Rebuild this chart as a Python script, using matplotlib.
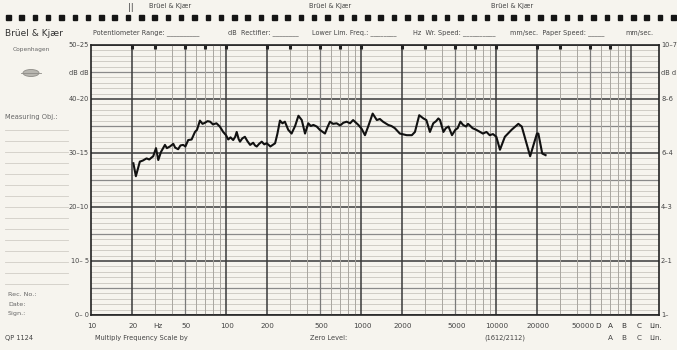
import numpy as np
import matplotlib
matplotlib.use("Agg")
import matplotlib.pyplot as plt
from matplotlib.patches import Ellipse

# ---- data ----
freq_hz = [20.6, 21.5, 23.0, 24.2, 25.8, 27.0, 28.9, 30.3, 31.5, 33.0, 35.3, 36.5,
           38.4, 40.7, 42.0, 44.2, 46.0, 48.2, 50.0, 52.5, 55.6, 58.9, 61.0, 64.1,
           67.0, 69.9, 73.0, 76.3, 80.0, 85.0, 90.0, 95.3, 100.0, 103.9, 108, 113,
           117, 120, 124, 127, 132, 138, 144, 151, 159, 164, 169, 176, 184, 192, 200,
           207, 213, 222, 231, 240, 251, 262, 273, 289, 306, 325, 344, 364, 385,
           407, 425, 444, 470, 495, 541, 565, 589, 620, 660, 700, 740, 783, 830,
           874, 956, 1010, 1070, 1130, 1220, 1310, 1380, 1455, 1590, 1680, 1780,
           1940, 2180, 2380, 2510, 2700, 2900, 3050, 3240, 3430, 3600, 3740, 3850,
           4080, 4250, 4450, 4720, 5000, 5200, 5450, 5700, 6010, 6200, 6400, 6700,
           7140, 7500, 8000, 8500, 8980, 9500, 10060, 10700, 11630, 13050, 14640,
           15520, 17900, 20100, 20600, 22000, 23300]
level_db = [28.1, 25.7, 28.4, 28.6, 29.0, 28.8, 29.4, 30.9, 28.7, 30.2, 31.5, 30.9,
            31.2, 31.7, 31.0, 30.7, 31.4, 31.5, 31.2, 32.4, 32.5, 33.9, 34.3, 36.0,
            35.4, 35.6, 35.9, 35.8, 35.3, 35.5, 34.9, 33.9, 33.3, 32.5, 32.9, 32.4,
            33.0, 33.9, 32.6, 32.1, 32.7, 33.0, 32.2, 31.5, 31.9, 31.4, 31.2, 31.7,
            32.1, 31.6, 31.8, 31.5, 31.2, 31.5, 31.8, 33.5, 36.0, 35.5, 35.8, 34.3,
            33.6, 35.0, 36.9, 36.1, 33.6, 35.5, 35.0, 35.2, 34.9, 34.3, 33.6, 34.8,
            35.8, 35.4, 35.5, 35.1, 35.6, 35.8, 35.5, 36.1, 35.2, 34.5, 33.3, 34.9,
            37.3, 36.1, 36.3, 35.8, 35.2, 35.0, 34.6, 33.6, 33.3, 33.3, 33.9, 37.0,
            36.4, 36.1, 33.9, 35.5, 35.9, 36.4, 36.1, 33.9, 34.6, 34.9, 33.3, 34.3,
            34.6, 35.8, 35.2, 34.9, 35.4, 35.1, 34.6, 34.3, 34.0, 33.6, 33.9, 33.3,
            33.5, 33.0, 30.6, 33.0, 34.3, 35.4, 34.9, 29.4, 33.6, 33.6, 29.9, 29.6]

freq_labels = ["10", "20", "50", "100", "200", "500", "1000", "2000", "5000",
               "10000", "20000", "50000"]
freq_label_pos = [10, 20, 50, 100, 200, 500, 1000, 2000, 5000, 10000, 20000, 50000]
left_db_labels = ["0– 0", "10– 5", "20–10", "30–15", "40–20", "50–25"]
left_db_pos = [0, 10, 20, 30, 40, 50]
right_labels = ["1–", "2–1", "4–3", "6–4", "8–6", "10–7"]

W, H = 677, 350
paper = "#f6f4ee"
ink = "#222222"

fig = plt.figure(figsize=(W / 100, H / 100), dpi=100, facecolor=paper)

def fx(x):
    return x / W

def fy(y):
    return 1 - y / H

# plot area in pixels
L, R, T, B = 91, 659, 45, 315
ax = fig.add_axes([fx(L), fy(B), (R - L) / W, (B - T) / H])
ax.set_facecolor(paper)
ax.set_xscale("log")
xmax = 10 * 10 ** ((R - L) / 135.0)
ax.set_xlim(10, xmax)
ax.set_ylim(0, 50)

# grid: horizontal
for d in range(0, 51):
    if d % 10 == 0:
        c, lw = "#3a3a3a", 1.1
    elif d % 5 == 0:
        c, lw = "#8a8a8a", 0.9
    else:
        c, lw = "#c9c6bf", 0.6
    ax.axhline(d, color=c, lw=lw, zorder=1)

# grid: vertical (log)
for dec in [10, 100, 1000, 10000, 100000]:
    for m in range(1, 10):
        f = dec * m
        if f <= 10 or f >= xmax:
            continue
        if m == 1 or m == 2:
            c, lw = "#3a3a3a", 1.1
        elif m == 5:
            c, lw = "#7a7a7a", 0.9
        else:
            c, lw = "#a9a6a0", 0.7
        ax.axvline(f, color=c, lw=lw, zorder=1)

# short marks at top of lines
for dec in [10, 100, 1000, 10000]:
    for m in [1, 2, 3, 5, 7]:
        f = dec * m
        if 10 < f < xmax:
            ax.plot([f, f], [50, 49.2], color=ink, lw=2.2, zorder=3, solid_capstyle="butt")

# trace
ax.plot(freq_hz, level_db, color="#111111", lw=1.5, zorder=5, solid_joinstyle="round")

for s in ax.spines.values():
    s.set_color(ink)
    s.set_linewidth(1.2)
ax.set_xticks([])
ax.set_yticks([])
ax.minorticks_off()

# frequency labels
for lab, f in zip(freq_labels, freq_label_pos):
    xp = L + 135 * np.log10(f / 10)
    if f == 50000:
        xp -= 8
    fig.text(fx(xp + 1), fy(326), lab, fontsize=5.2, color="#444", ha="center", va="center")
fig.text(fx(158), fy(326), "Hz", fontsize=5.2, color="#444", ha="center", va="center")
for i, lab in enumerate(["D", "A", "B", "C", "Lin."]):
    fig.text(fx([598, 610, 624, 639, 656][i]), fy(326), lab, fontsize=5.2, color="#333",
             ha="center", va="center")
for i, lab in enumerate(["A", "B", "C", "Lin."]):
    fig.text(fx([610, 624, 639, 656][i]), fy(338), lab, fontsize=5.2, color="#444",
             ha="center", va="center")

# dB labels
for lab, d in zip(left_db_labels, left_db_pos):
    yp = B - (B - T) * d / 50
    fig.text(fx(89), fy(yp), lab, fontsize=4.8, color="#444", ha="right", va="center")
fig.text(fx(89), fy(73), "dB dB", fontsize=4.8, color="#444", ha="right", va="center")
for lab, d in zip(right_labels, left_db_pos):
    yp = B - (B - T) * d / 50
    fig.text(fx(661), fy(yp), lab, fontsize=4.8, color="#444", ha="left", va="center")
fig.text(fx(661), fy(73), "dB d", fontsize=4.8, color="#444", ha="left", va="center")

# sprocket holes
for xs in np.arange(6, 672, 13.3):
    fig.patches.append(plt.Rectangle((fx(xs), fy(20)), 4.5 / W, 4.5 / H,
                                     transform=fig.transFigure, color="#151515"))
for xp in [170, 330, 512]:
    fig.text(fx(xp), fy(6), "Brüel & Kjær", fontsize=4.8, color="#444", ha="center", va="center")
fig.text(fx(131), fy(7), "||", fontsize=6, color="#444", ha="center", va="center")

# header line
fig.text(fx(5), fy(33), "Brüel & Kjær", fontsize=6.5, color="#333", ha="left", va="center")
hdr_parts = [(93, "Potentiometer Range: __________"), (228, "dB  Rectifier: ________"),
             (312, "Lower Lim. Freq.: ________"), (413, "Hz  Wr. Speed: __________"),
             (510, "mm/sec.  Paper Speed: _____"), (625, "mm/sec.")]
for xp, txt in hdr_parts:
    fig.text(fx(xp), fy(33), txt, fontsize=4.7, color="#444", ha="left", va="center")

# left panel
fig.text(fx(31), fy(50), "Copenhagen", fontsize=4.2, color="#666", ha="center", va="center")
fig.patches.append(Ellipse((fx(31), fy(73)), 16 / W, 7 / H, transform=fig.transFigure,
                           facecolor="#b8b6b0", edgecolor="#8f8d88", lw=0.6))
fig.add_artist(plt.Line2D([fx(21), fx(41)], [fy(73), fy(73)], color="#8f8d88", lw=0.6,
                          transform=fig.transFigure))
fig.text(fx(5), fy(117), "Measuring Obj.:", fontsize=4.8, color="#666", ha="left", va="center")
for yl in range(130, 290, 11):
    fig.add_artist(plt.Line2D([fx(5), fx(68)], [fy(yl), fy(yl)], color="#d0cdc6",
                              lw=0.6, transform=fig.transFigure))
for lab, yl in [("Rec. No.:", 295), ("Date:", 305), ("Sign.:", 314)]:
    fig.text(fx(8), fy(yl), lab, fontsize=4.6, color="#666", ha="left", va="center")

# footer
fig.text(fx(5), fy(338), "QP 1124", fontsize=4.8, color="#444", ha="left", va="center")
fig.text(fx(95), fy(338), "Multiply Frequency Scale by", fontsize=4.8, color="#444",
         ha="left", va="center")
fig.text(fx(310), fy(338), "Zero Level:", fontsize=4.8, color="#444", ha="left", va="center")
fig.text(fx(505), fy(338), "(1612/2112)", fontsize=4.8, color="#444", ha="center", va="center")

fig.savefig("out.png", dpi=100, facecolor=paper)
